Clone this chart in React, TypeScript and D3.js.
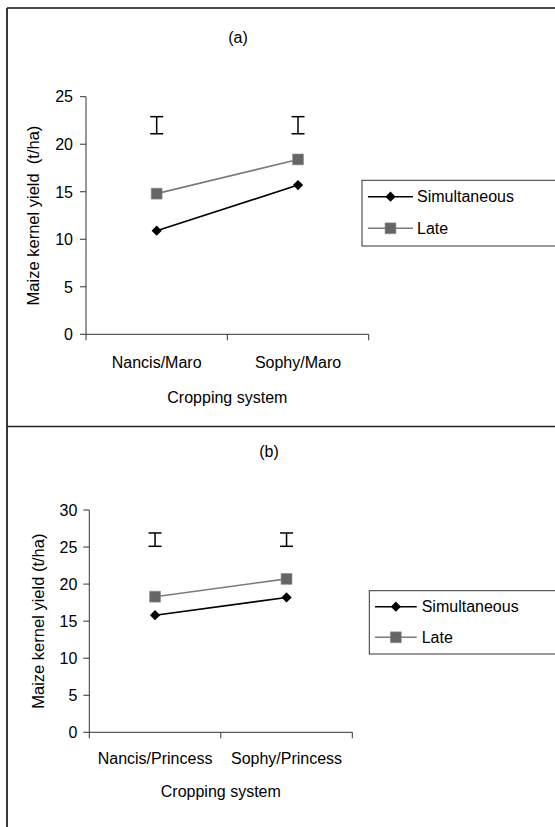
import React from "react";
import * as d3 from "d3";

// panel (a)
const categoriesA = ["Nancis/Maro", "Sophy/Maro"];
const simultaneousA = [10.9, 15.7];
const lateA = [14.8, 18.4];
const barLowA = [21.1, 21.1];
const barHighA = [22.9, 22.9];
const yTicksA = [0, 5, 10, 15, 20, 25];

// panel (b)
const categoriesB = ["Nancis/Princess", "Sophy/Princess"];
const simultaneousB = [15.8, 18.2];
const lateB = [18.3, 20.7];
const barLowB = [25.1, 25.1];
const barHighB = [26.9, 26.9];
const yTicksB = [0, 5, 10, 15, 20, 25, 30];

const seriesNames = ["Simultaneous", "Late"];

const FONT = "'Liberation Sans', Arial, sans-serif";

const diamond = d3.symbol().type(d3.symbolSquare).size(52)();
const square = d3.symbol().type(d3.symbolSquare).size(118)();

type PanelProps = {
  title: string;
  categories: string[];
  simultaneous: number[];
  late: number[];
  low: number[];
  high: number[];
  ticks: number[];
  yLabel: string;
  box: { left: number; right: number; top: number; bottom: number };
  titleY: number;
  titleX: number;
  yLabelX: number;
  tickLabelY: number;
  xTitleY: number;
  tickLabelGap: number;
  legend: { x: number; y: number; h: number; row1: number; row2: number; lx1: number; lx2: number; tx: number };
};

const Panel = (p: PanelProps) => {
  const { box } = p;
  const x = d3.scaleBand<string>().domain(p.categories).range([box.left, box.right]);
  const y = d3
    .scaleLinear()
    .domain([0, d3.max(p.ticks) as number])
    .range([box.bottom, box.top]);
  const cx = (i: number) => (x(p.categories[i]) as number) + x.bandwidth() / 2;
  const line = d3
    .line<number>()
    .x((d, i) => cx(i))
    .y((d) => y(d));
  const bandEdges = [box.left, ...p.categories.map((c) => (x(c) as number) + x.bandwidth())];
  const lg = p.legend;
  const mid = (lg.lx1 + lg.lx2) / 2;

  return (
    <g fontFamily={FONT} fontSize={16} fill="#000">
      <text x={p.titleX} y={p.titleY} textAnchor="middle">
        {p.title}
      </text>

      {/* y axis */}
      <line x1={box.left} x2={box.left} y1={box.top} y2={box.bottom} stroke="#333" strokeWidth={1} />
      {p.ticks.map((t) => (
        <g key={t}>
          <line x1={box.left - 6} x2={box.left} y1={y(t)} y2={y(t)} stroke="#333" />
          <text x={box.left - p.tickLabelGap} y={y(t)} dy="0.36em" textAnchor="end">
            {t}
          </text>
        </g>
      ))}
      <text
        transform={`translate(${p.yLabelX},${(box.top + box.bottom) / 2}) rotate(-90)`}
        dy="0.35em"
        textAnchor="middle"
        fontSize={16.5}
        style={{ whiteSpace: "pre" }}
      >
        {p.yLabel}
      </text>

      {/* x axis */}
      <line x1={box.left} x2={box.right} y1={box.bottom} y2={box.bottom} stroke="#333" />
      {bandEdges.map((e, i) => (
        <line key={i} x1={e} x2={e} y1={box.bottom} y2={box.bottom + 6} stroke="#333" />
      ))}
      {p.categories.map((c, i) => (
        <text key={c} x={cx(i)} y={p.tickLabelY} textAnchor="middle">
          {c}
        </text>
      ))}
      <text x={(box.left + box.right) / 2} y={p.xTitleY} textAnchor="middle">
        Cropping system
      </text>

      {/* LSD bars */}
      {p.low.map((lo, i) => (
        <g key={i} stroke="#000" strokeWidth={1.5}>
          <line x1={cx(i)} x2={cx(i)} y1={y(lo)} y2={y(p.high[i])} />
          <line x1={cx(i) - 6.5} x2={cx(i) + 6.5} y1={y(lo)} y2={y(lo)} />
          <line x1={cx(i) - 6.5} x2={cx(i) + 6.5} y1={y(p.high[i])} y2={y(p.high[i])} />
        </g>
      ))}

      {/* series */}
      <path d={line(p.late) as string} fill="none" stroke="#7a7a7a" strokeWidth={1.6} />
      {p.late.map((v, i) => (
        <path key={i} d={square as string} transform={`translate(${cx(i)},${y(v)})`} fill="#666" stroke="#888" strokeWidth={0.6} />
      ))}
      <path d={line(p.simultaneous) as string} fill="none" stroke="#000" strokeWidth={1.6} />
      {p.simultaneous.map((v, i) => (
        <path key={i} d={diamond as string} transform={`translate(${cx(i)},${y(v)}) rotate(45)`} fill="#000" />
      ))}

      {/* legend */}
      <rect x={lg.x} y={lg.y} width={300} height={lg.h} fill="#fff" stroke="#333" strokeWidth={1} />
      <line x1={lg.lx1} x2={lg.lx2} y1={lg.row1} y2={lg.row1} stroke="#000" strokeWidth={1.6} />
      <path d={diamond as string} transform={`translate(${mid},${lg.row1}) rotate(45)`} fill="#000" />
      <text x={lg.tx} y={lg.row1} dy="0.36em">
        {seriesNames[0]}
      </text>
      <line x1={lg.lx1} x2={lg.lx2} y1={lg.row2} y2={lg.row2} stroke="#7a7a7a" strokeWidth={1.6} />
      <path d={square as string} transform={`translate(${mid},${lg.row2})`} fill="#666" stroke="#888" strokeWidth={0.6} />
      <text x={lg.tx} y={lg.row2} dy="0.36em">
        {seriesNames[1]}
      </text>
    </g>
  );
};

export default function App() {
  return (
    <svg
      width={555}
      height={827}
      style={{ position: "absolute", left: 0, top: 0, background: "#fff" }}
    >
      <rect x={0} y={0} width={555} height={827} fill="#fff" />
      {/* frames */}
      <line x1={7} x2={560} y1={8} y2={8} stroke="#111" strokeWidth={1.5} />
      <line x1={7} x2={7} y1={8} y2={827} stroke="#222" strokeWidth={1.8} />
      <line x1={7} x2={560} y1={426.5} y2={426.5} stroke="#222" strokeWidth={1.5} />

      <Panel
        title="(a)"
        categories={categoriesA}
        simultaneous={simultaneousA}
        late={lateA}
        low={barLowA}
        high={barHighA}
        ticks={yTicksA}
        yLabel="Maize kernel yield  (t/ha)"
        box={{ left: 86, right: 368.7, top: 96.7, bottom: 334.3 }}
        titleX={238}
        titleY={43}
        yLabelX={33}
        tickLabelY={367.5}
        xTitleY={402.5}
        tickLabelGap={13}
        legend={{ x: 362, y: 180.3, h: 65.7, row1: 196.7, row2: 228.3, lx1: 368, lx2: 413, tx: 417 }}
      />
      <Panel
        title="(b)"
        categories={categoriesB}
        simultaneous={simultaneousB}
        late={lateB}
        low={barLowB}
        high={barHighB}
        ticks={yTicksB}
        yLabel="Maize kernel yield (t/ha)"
        box={{ left: 89.3, right: 352.3, top: 510, bottom: 732.3 }}
        titleX={269}
        titleY={457}
        yLabelX={38}
        tickLabelY={763.5}
        xTitleY={797}
        tickLabelGap={12}
        legend={{ x: 369.3, y: 590.7, h: 63.3, row1: 606.7, row2: 637.3, lx1: 375, lx2: 416.7, tx: 421.7 }}
      />
    </svg>
  );
}
